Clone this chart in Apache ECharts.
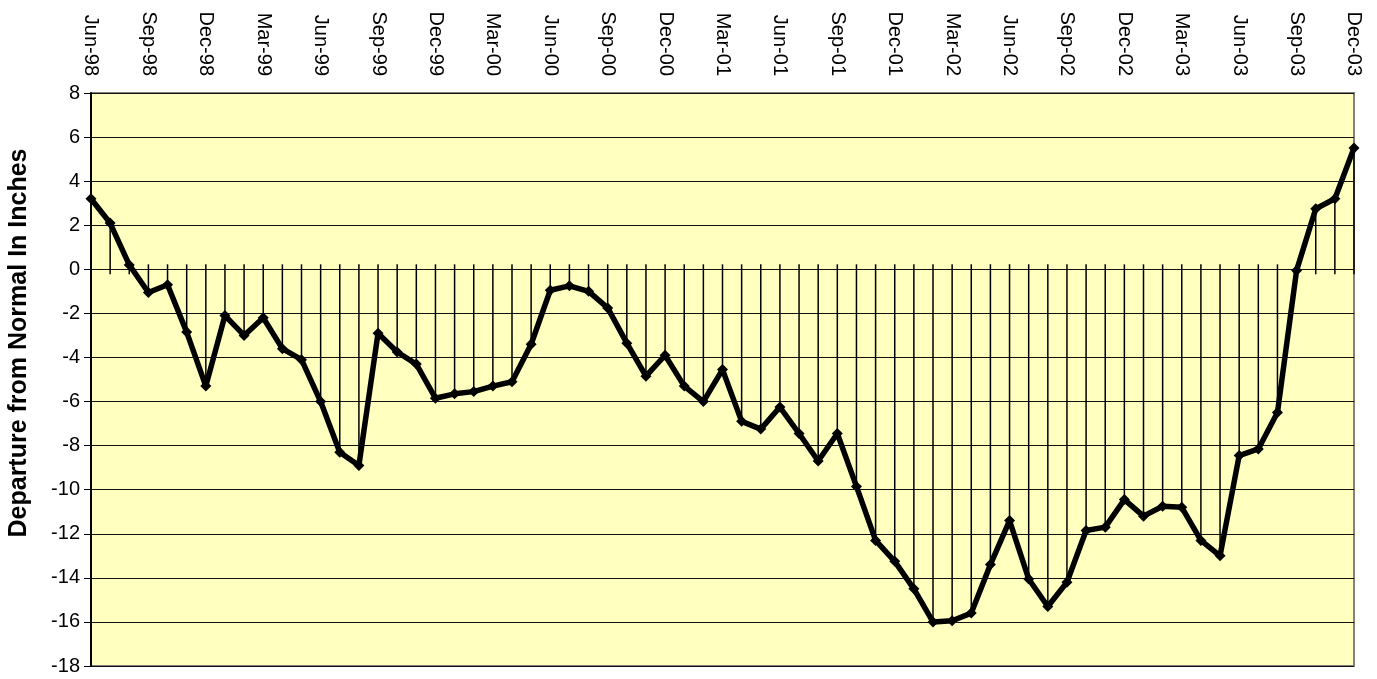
<!DOCTYPE html>
<html>
<head>
<meta charset="utf-8">
<title>Departure from Normal</title>
<script src="https://cdn.jsdelivr.net/npm/echarts@6/dist/echarts.min.js"></script>
<style>
  html, body { margin: 0; padding: 0; background: #fff; }
  #chart { width: 1377px; height: 679px; }
</style>
</head>
<body>
<div id="chart"></div>
<script>
// months Jun-98 .. Dec-03
const months = [
  'Jun-98', 'Jul-98', 'Aug-98', 'Sep-98', 'Oct-98', 'Nov-98', 'Dec-98',
  'Jan-99', 'Feb-99', 'Mar-99', 'Apr-99', 'May-99', 'Jun-99', 'Jul-99', 'Aug-99', 'Sep-99', 'Oct-99', 'Nov-99', 'Dec-99',
  'Jan-00', 'Feb-00', 'Mar-00', 'Apr-00', 'May-00', 'Jun-00', 'Jul-00', 'Aug-00', 'Sep-00', 'Oct-00', 'Nov-00', 'Dec-00',
  'Jan-01', 'Feb-01', 'Mar-01', 'Apr-01', 'May-01', 'Jun-01', 'Jul-01', 'Aug-01', 'Sep-01', 'Oct-01', 'Nov-01', 'Dec-01',
  'Jan-02', 'Feb-02', 'Mar-02', 'Apr-02', 'May-02', 'Jun-02', 'Jul-02', 'Aug-02', 'Sep-02', 'Oct-02', 'Nov-02', 'Dec-02',
  'Jan-03', 'Feb-03', 'Mar-03', 'Apr-03', 'May-03', 'Jun-03', 'Jul-03', 'Aug-03', 'Sep-03', 'Oct-03', 'Nov-03', 'Dec-03'
];

// departure from normal, inches
const departure = [
  3.2, 2.1, 0.2, -1.05, -0.7, -2.85, -5.3,
  -2.1, -3.0, -2.2, -3.6, -4.1, -6.0, -8.3, -8.9, -2.9, -3.75, -4.3, -5.85,
  -5.65, -5.55, -5.3, -5.1, -3.4, -0.95, -0.75, -1.0, -1.75, -3.35, -4.85, -3.9,
  -5.3, -6.0, -4.55, -6.9, -7.25, -6.25, -7.45, -8.7, -7.45, -9.85, -12.3, -13.25,
  -14.5, -16.0, -15.95, -15.6, -13.4, -11.4, -14.05, -15.3, -14.2, -11.85, -11.7, -10.45,
  -11.2, -10.75, -10.8, -12.3, -13.0, -8.45, -8.15, -6.5, -0.05, 2.75, 3.2, 5.5
];

const yMin = -18;
const yMax = 8;
const yStep = 2;

const font = '"Liberation Sans", Arial, sans-serif';

const chart = echarts.init(document.getElementById('chart'), null, { renderer: 'canvas' });

// drop line from zero to the point, plus the crossing tick of the axis at zero
function renderDrop(params, api) {
  const i = api.value(0);
  const v = api.value(1);
  const p0 = api.coord([i, 0]);
  const p1 = api.coord([i, v]);
  const top = Math.min(p0[1] - 5, p1[1]);
  const bottom = Math.max(p0[1] + 5, p1[1]);
  return {
    type: 'line',
    shape: { x1: p0[0], y1: top, x2: p0[0], y2: bottom },
    style: { stroke: '#000', lineWidth: 1.5 }
  };
}

chart.setOption({
  animation: false,
  backgroundColor: '#fff',
  grid: {
    left: 91, right: 23, top: 93, bottom: 13,
    show: true,
    backgroundColor: '#FFFFC0',
    borderColor: '#808080',
    borderWidth: 2
  },
  graphic: [{
    type: 'text',
    x: 19, y: 343,
    rotation: Math.PI / 2,
    style: {
      text: 'Departure from Normal In Inches',
      font: 'bold 25px ' + font,
      fill: '#000',
      align: 'center',
      verticalAlign: 'middle'
    }
  }],
  xAxis: {
    type: 'category',
    data: months,
    position: 'top',
    boundaryGap: false,
    axisLine: { show: false },
    axisTick: { show: false },
    splitLine: { show: false },
    axisLabel: {
      interval: 2,
      rotate: -90,
      margin: 17,
      color: '#000',
      fontFamily: font,
      fontSize: 20
    }
  },
  yAxis: {
    type: 'value',
    min: yMin,
    max: yMax,
    interval: yStep,
    axisLine: { show: true, lineStyle: { color: '#000', width: 2 } },
    axisTick: { show: true, length: 7, lineStyle: { color: '#000', width: 1 } },
    axisLabel: { margin: 11, color: '#000', fontFamily: font, fontSize: 20 },
    splitLine: { show: true, lineStyle: { color: '#111', width: 1.2 } }
  },
  series: [
    {
      type: 'custom',
      renderItem: renderDrop,
      data: departure.map((v, i) => [i, v]),
      z: 1
    },
    {
      type: 'line',
      data: departure,
      symbol: 'diamond',
      symbolSize: 11,
      lineStyle: { color: '#000', width: 5.5 },
      itemStyle: { color: '#000' },
      z: 3
    }
  ]
});
</script>
</body>
</html>
